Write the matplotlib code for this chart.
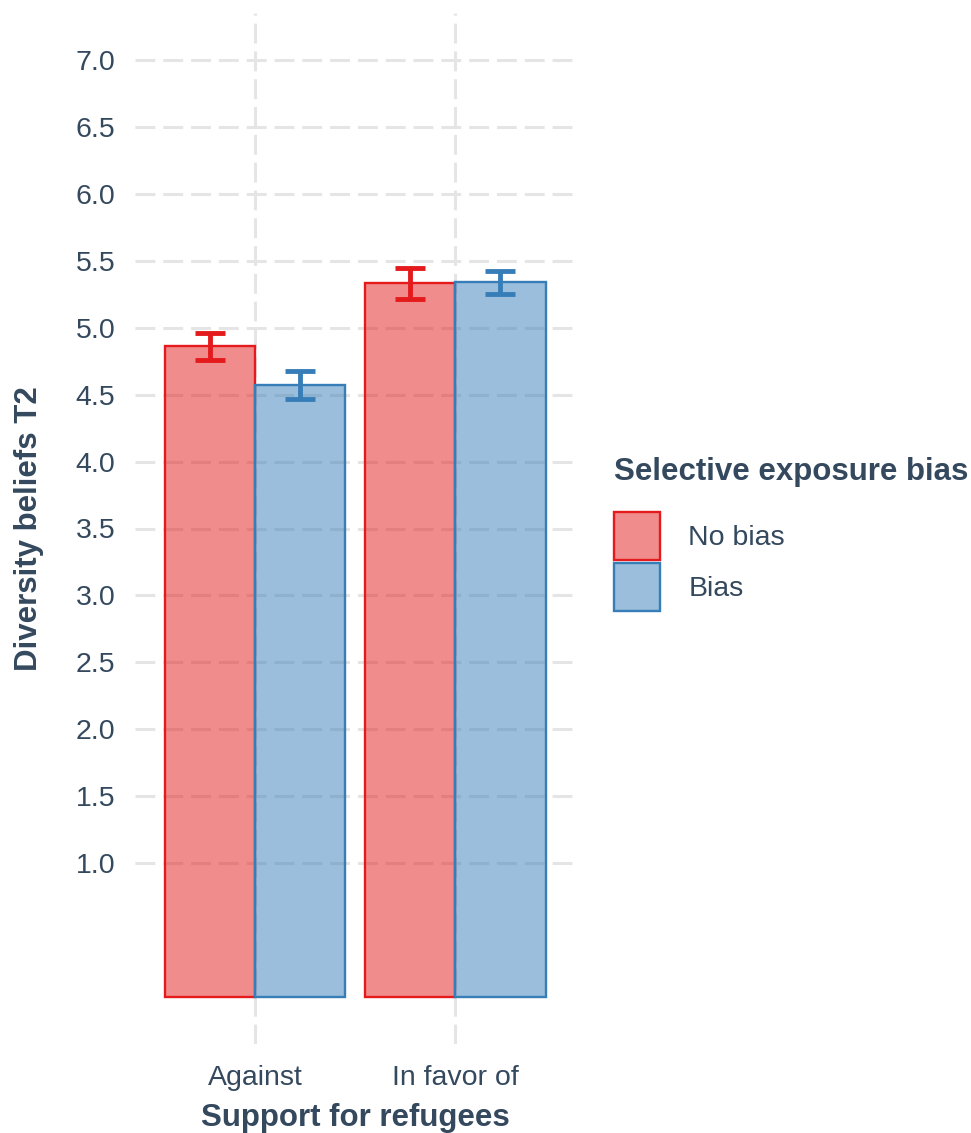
import matplotlib.pyplot as plt
import numpy as np
from matplotlib.colors import to_rgba
from matplotlib.patches import Patch

plt.rcParams['font.family'] = ['Liberation Sans', 'DejaVu Sans']

categories = ['Against', 'In favor of']
groups = ['No bias', 'Bias']
means_nobias = [4.86, 5.33]
means_bias = [4.57, 5.34]
err_nobias = [0.10, 0.115]
err_bias = [0.105, 0.085]

colors = ['#E41A1C', '#377EB8']
text_col = '#34495E'

fig = plt.figure(figsize=(9.71, 11.33), dpi=100)
ax = fig.add_axes([135 / 971, 1 - 1044 / 1133, 440.6 / 971, 1031 / 1133])

x = np.arange(1, len(categories) + 1)
w = 0.45
for i, (m, e) in enumerate([(means_nobias, err_nobias), (means_bias, err_bias)]):
    pos = x - w / 2 + i * w
    ax.bar(pos, m, width=w, facecolor=to_rgba(colors[i], 0.5),
           edgecolor=colors[i], linewidth=1.7, zorder=2)
    ax.errorbar(pos, m, yerr=e, fmt='none', ecolor=colors[i],
                elinewidth=3.5, capsize=11, capthick=3.5, zorder=3)

ax.set_xlim(0.4, 2.6)
ax.set_ylim(-0.35, 7.35)
ax.set_yticks(np.arange(1.0, 7.01, 0.5))
ax.set_yticklabels([f'{v:.1f}' for v in np.arange(1.0, 7.01, 0.5)])
ax.set_xticks(x)
ax.set_xticklabels(categories)

ax.grid(True, color='#E5E5E5', linewidth=2.2, linestyle=(0, (6.5, 2.6)), zorder=0)
ax.set_axisbelow(True)
for s in ax.spines.values():
    s.set_visible(False)
ax.tick_params(length=0, labelsize=20.5, colors=text_col)
ax.tick_params(axis='x', pad=15)
ax.tick_params(axis='y', pad=14)

ax.set_xlabel('Support for refugees', fontsize=22.5, fontweight='bold',
              color=text_col, labelpad=9)
ax.set_ylabel('Diversity beliefs T2', fontsize=22.5, fontweight='bold',
              color=text_col, labelpad=23)

handles = [Patch(facecolor=to_rgba(c, 0.5), edgecolor=c, linewidth=1.7)
           for c in colors]
leg = fig.legend(handles, groups, loc='upper left', bbox_to_anchor=(603 / 971, 1 - 446 / 1133),
                 frameon=False, fontsize=20.5, title='Selective exposure bias',
                 title_fontproperties={'size': 22.5, 'weight': 'bold'},
                 handlelength=1.6, handleheight=2.22, handletextpad=1.0,
                 labelspacing=0.1, alignment='left', borderaxespad=0)
leg.get_title().set_color(text_col)
leg._legend_box.sep = 18
for t in leg.get_texts():
    t.set_color(text_col)

fig.savefig('out.png', dpi=100)
